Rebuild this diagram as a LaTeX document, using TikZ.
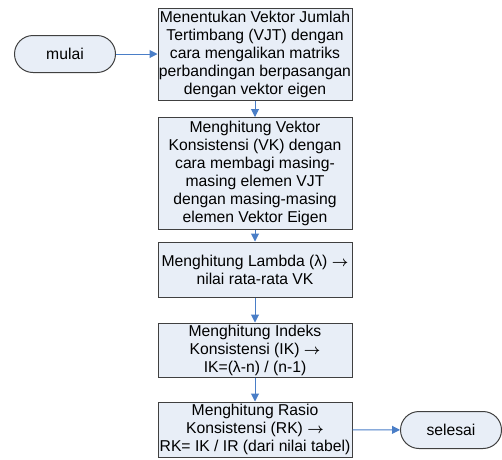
\documentclass[tikz,border=0pt]{standalone}
\usepackage{fontspec}
\usepackage{amsmath}
\setmainfont{Liberation Sans}
\usetikzlibrary{arrows.meta}
\definecolor{boxfill}{HTML}{E8EEF7}
\definecolor{boxline}{HTML}{404040}
\definecolor{flow}{HTML}{4A7EC7}
\newcommand{\toarrow}{$\boldsymbol{\rightarrow}$}
\tikzset{
  procbox/.style={draw=boxline, fill=boxfill, line width=1pt, minimum width=194pt,
    align=center, inner sep=0pt,
    font=\fontsize{15.7pt}{18pt}\selectfont},
  terminal/.style={draw=boxline, fill=boxfill, line width=1pt, rounded corners=18.5pt,
    minimum width=101pt, minimum height=37pt, inner sep=0pt,
    font=\fontsize{15.7pt}{18pt}\selectfont},
  flowarrow/.style={draw=flow, line width=1pt, -{Triangle[length=8pt,width=8pt]}}
}
\begin{document}
\begin{tikzpicture}[x=1pt, y=-1pt]
  \useasboundingbox (0,0) rectangle (502,459);
  % start / end terminals
  \node[terminal] (start) at (65,54) {mulai};
  \node[terminal] (stop) at (451,430) {selesai};
  % process steps
  \node[procbox, minimum height=92pt] (s1) at (255,54)
    {Menentukan Vektor Jumlah\\ Tertimbang (VJT) dengan\\ cara mengalikan matriks\\ perbandingan berpasangan\\ dengan vektor eigen};
  \node[procbox, minimum height=112pt] (s2) at (255,173.5)
    {Menghitung Vektor\\ Konsistensi (VK) dengan\\ cara membagi masing-\\ masing elemen VJT\\ dengan masing-masing\\ elemen Vektor Eigen};
  \node[procbox, minimum height=55pt] (s3) at (255,269.5)
    {Menghitung Lambda (λ) \toarrow\\ nilai rata-rata VK};
  \node[procbox, minimum height=54pt] (s4) at (255,350)
    {Menghitung Indeks\\ Konsistensi (IK) \toarrow\\ IK=(λ-n) / (n-1)};
  \node[procbox, minimum height=55pt] (s5) at (255,429.5)
    {Menghitung Rasio\\ Konsistensi (RK) \toarrow\\ RK= IK / IR (dari nilai tabel)};
  % connectors
  \draw[flowarrow] (start) -- (s1);
  \draw[flowarrow] (s1) -- (s2);
  \draw[flowarrow] (s2) -- (s3);
  \draw[flowarrow] (s3) -- (s4);
  \draw[flowarrow] (s4) -- (s5);
  \draw[flowarrow] (s5) -- (stop);
\end{tikzpicture}
\end{document}
